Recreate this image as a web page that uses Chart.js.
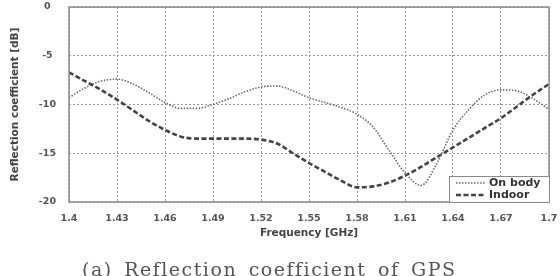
<!DOCTYPE html>
<html>
<head>
<meta charset="utf-8">
<script src="https://cdn.jsdelivr.net/npm/chart.js@4.4.1/dist/chart.umd.min.js"></script>
<style>
  html, body { margin: 0; padding: 0; background: #fff; }
  #wrap { position: relative; width: 560px; height: 276px; overflow: hidden; }
  #caption {
    position: absolute; left: 82px; top: 258px;
    font-family: "DejaVu Serif", serif; font-size: 19px; letter-spacing: 1.5px;
    color: #555; white-space: nowrap; word-spacing: 4px;
  }
</style>
</head>
<body>
<div id="wrap">
  <canvas id="chart" width="560" height="276"></canvas>
  <div id="caption">(a) Reflection coefficient of GPS</div>
</div>
<script>
const freqs = [1.40, 1.41, 1.42, 1.43, 1.44, 1.45, 1.46, 1.47, 1.48, 1.49, 1.50,
               1.51, 1.52, 1.53, 1.54, 1.55, 1.56, 1.57, 1.58, 1.59, 1.60,
               1.61, 1.62, 1.63, 1.64, 1.65, 1.66, 1.67, 1.68, 1.69, 1.70];
const onBody = [-9.3, -8.3, -7.6, -7.4, -7.9, -8.8, -9.8, -10.4, -10.4, -10.0, -9.4,
                -8.7, -8.2, -8.1, -8.6, -9.3, -9.8, -10.3, -11.0, -12.3, -14.7,
                -17.0, -18.3, -16.0, -12.6, -10.5, -9.0, -8.5, -8.6, -9.4, -10.5];
const indoor = [-6.7, -7.6, -8.5, -9.5, -10.6, -11.7, -12.6, -13.3, -13.5, -13.5, -13.5,
                -13.5, -13.6, -14.0, -15.0, -16.0, -16.9, -17.8, -18.5, -18.4, -18.0,
                -17.3, -16.4, -15.4, -14.4, -13.4, -12.4, -11.4, -10.2, -9.0, -7.9];
const xTicks = [1.4, 1.43, 1.46, 1.49, 1.52, 1.55, 1.58, 1.61, 1.64, 1.67, 1.7];
const yTicks = [-20, -15, -10, -5, 0];
const seriesNames = ['On body', 'Indoor'];

const tickFont = { family: '"DejaVu Sans", sans-serif', size: 9.5, weight: 'bold' };
const titleFont = { family: '"DejaVu Sans", sans-serif', size: 10.5, weight: 'bold' };

// legend box in the lower right corner of the plot
const boxLegend = {
    id: 'boxLegend',
    afterDraw(chart) {
        const { ctx, chartArea } = chart;
        const w = 100, h = 26;
        const x0 = chartArea.right - w, y0 = chartArea.bottom - h;
        ctx.save();
        ctx.fillStyle = '#fff';
        ctx.fillRect(x0, y0, w, h);
        ctx.strokeStyle = '#888';
        ctx.lineWidth = 1;
        ctx.strokeRect(x0 + 0.5, y0 + 0.5, w, h);
        chart.data.datasets.forEach((ds, i) => {
            const y = y0 + 7 + i * 12;
            ctx.strokeStyle = ds.borderColor;
            ctx.lineWidth = ds.borderWidth;
            ctx.setLineDash(ds.borderDash);
            ctx.beginPath();
            ctx.moveTo(x0 + 7, y);
            ctx.lineTo(x0 + 36, y);
            ctx.stroke();
            ctx.setLineDash([]);
            ctx.fillStyle = '#333';
            ctx.font = 'bold 11px "DejaVu Sans", sans-serif';
            ctx.textBaseline = 'middle';
            ctx.fillText(ds.label, x0 + 40, y);
        });
        ctx.restore();
    }
};

// solid frame around the plot area
const frame = {
    id: 'frame',
    afterDatasetsDraw(chart) {
        const { ctx, chartArea: a } = chart;
        ctx.save();
        ctx.strokeStyle = '#8a8a8a';
        ctx.lineWidth = 1.5;
        ctx.strokeRect(a.left, a.top, a.right - a.left, a.bottom - a.top);
        ctx.restore();
    }
};

new Chart(document.getElementById('chart'), {
    type: 'line',
    data: {
        datasets: [
            {
                label: seriesNames[0],
                data: freqs.map((f, i) => ({ x: f, y: onBody[i] })),
                borderColor: '#6a6a6a',
                borderWidth: 1.6,
                borderDash: [1.5, 1.5],
                pointRadius: 0,
                tension: 0.4,
                cubicInterpolationMode: 'monotone'
            },
            {
                label: seriesNames[1],
                data: freqs.map((f, i) => ({ x: f, y: indoor[i] })),
                borderColor: '#444',
                borderWidth: 2.6,
                borderDash: [5, 2.5],
                pointRadius: 0,
                tension: 0.4,
                cubicInterpolationMode: 'monotone'
            }
        ]
    },
    options: {
        responsive: false,
        animation: false,
        layout: { padding: { top: 7, right: 11, left: 0, bottom: 34 } },
        plugins: { legend: { display: false }, tooltip: { enabled: false } },
        scales: {
            x: {
                type: 'linear',
                min: 1.4, max: 1.7,
                afterBuildTicks: s => { s.ticks = xTicks.map(v => ({ value: v })); },
                afterFit: s => { s.height = 40; s.paddingLeft = 0; s.paddingRight = 0; },
                ticks: { color: '#555', font: tickFont, padding: 11,
                         callback: v => String(Number(v.toFixed(2))) },
                grid: { color: '#9a9a9a', drawTicks: false },
                border: { display: false, dash: [2, 2] },
                title: { display: true, text: 'Frequency [GHz]', color: '#444',
                         font: titleFont, padding: { top: 0, bottom: 2 } }
            },
            y: {
                min: -20, max: 0,
                afterBuildTicks: s => { s.ticks = yTicks.map(v => ({ value: v })); },
                afterFit: s => { s.width = 69; s.paddingTop = 0; s.paddingBottom = 0; },
                ticks: { color: '#555', font: tickFont, padding: 13, crossAlign: 'center',
                         callback: v => String(v) },
                grid: { color: '#9a9a9a', drawTicks: false },
                border: { display: false, dash: [2, 2] },
                title: { display: true, text: 'Reflection coefficient [dB]', color: '#444',
                         font: titleFont, padding: { top: 9, bottom: 0 } }
            }
        }
    },
    plugins: [frame, boxLegend]
});
</script>
</body>
</html>
